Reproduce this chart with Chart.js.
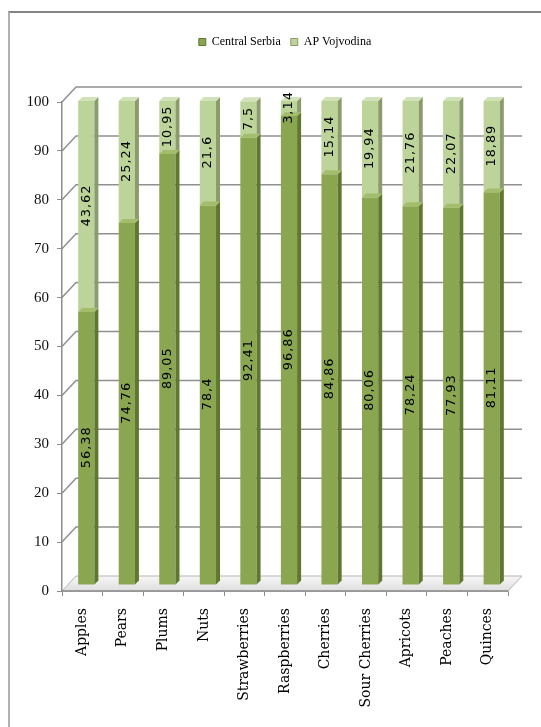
<!DOCTYPE html>
<html>
<head>
<meta charset="utf-8">
<script src="https://cdn.jsdelivr.net/npm/chart.js@4.4.0/dist/chart.umd.min.js"></script>
<style>
  html, body { margin: 0; padding: 0; background: #fff; overflow: hidden; }
  #frame { position: absolute; left: 8px; top: 11px; width: 600px; height: 800px;
           border-top: 2px solid #858585; border-left: 2px solid #b0b0b0; }
  #myChart { position: absolute; left: 0; top: 0; }
</style>
</head>
<body>
<div id="frame"></div>
<canvas id="myChart" width="541" height="727"></canvas>
<script>
// Fruit production share by region, in percent
var categories = ['Apples', 'Pears', 'Plums', 'Nuts', 'Strawberries', 'Raspberries',
                  'Cherries', 'Sour Cherries', 'Apricots', 'Peaches', 'Quinces'];
var centralSerbia = [56.38, 74.76, 89.05, 78.4, 92.41, 96.86, 84.86, 80.06, 78.24, 77.93, 81.11];
var apVojvodina   = [43.62, 25.24, 10.95, 21.6, 7.5, 3.14, 15.14, 19.94, 21.76, 22.07, 18.89];
var yMin = 0, yMax = 100, yStep = 10;

// depth of the box walls and of the columns
var WALL_DX = 14, WALL_DY = 15;
var BAR_DX = 4, BAR_DY = -6, BAR_SY = 0.99, BAR_DEPTH = 4;

var faceColors = [
  { side: '#5e792f', top: '#a3bd6c' },
  { side: '#8b9c6c', top: '#d2e2b8' }
];

function applyBarDepth(ctx, chart) {
  var b = chart.chartArea.bottom;
  ctx.translate(BAR_DX, b + BAR_DY);
  ctx.scale(1, BAR_SY);
  ctx.translate(0, -b);
}

function formatValue(v) {
  return String(v).replace('.', ',');
}

var box3d = {
  id: 'box3d',
  beforeDatasetsDraw: function (chart) {
    var ctx = chart.ctx, area = chart.chartArea, y = chart.scales.y;
    ctx.save();
    // back wall + left wall grid lines
    ctx.strokeStyle = '#909090';
    ctx.lineWidth = 1.5;
    y.ticks.forEach(function (t) {
      if (t.value === yMin) return;
      var yy = y.getPixelForValue(t.value);
      ctx.beginPath();
      ctx.moveTo(area.left, yy);
      ctx.lineTo(area.left + WALL_DX, yy - WALL_DY);
      ctx.lineTo(area.right + WALL_DX, yy - WALL_DY);
      ctx.stroke();
    });
    // floor
    var fb = area.bottom;
    var g = ctx.createLinearGradient(0, fb - WALL_DY, 0, fb);
    g.addColorStop(0, '#f7f7f7');
    g.addColorStop(1, '#dedede');
    ctx.fillStyle = g;
    ctx.beginPath();
    ctx.moveTo(area.left, fb);
    ctx.lineTo(area.right, fb);
    ctx.lineTo(area.right + WALL_DX, fb - WALL_DY);
    ctx.lineTo(area.left + WALL_DX, fb - WALL_DY);
    ctx.closePath();
    ctx.fill();
    ctx.strokeStyle = '#b4b4b4';
    ctx.lineWidth = 1;
    ctx.stroke();
    ctx.strokeStyle = '#8c8c8c';
    ctx.lineWidth = 1.5;
    ctx.beginPath();
    ctx.moveTo(area.left, fb);
    ctx.lineTo(area.right, fb);
    ctx.stroke();
    ctx.restore();
  },
  beforeDatasetDraw: function (chart) {
    chart.ctx.save();
    applyBarDepth(chart.ctx, chart);
  },
  afterDatasetDraw: function (chart, args) {
    var ctx = chart.ctx, c = faceColors[args.index];
    args.meta.data.forEach(function (el) {
      var p = el.getProps(['x', 'y', 'base', 'width'], true);
      var l = p.x - p.width / 2, r = p.x + p.width / 2;
      var top = Math.min(p.y, p.base), bot = Math.max(p.y, p.base);
      ctx.fillStyle = c.side;
      ctx.beginPath();
      ctx.moveTo(r, top);
      ctx.lineTo(r + BAR_DEPTH, top - BAR_DEPTH);
      ctx.lineTo(r + BAR_DEPTH, bot - BAR_DEPTH);
      ctx.lineTo(r, bot);
      ctx.closePath();
      ctx.fill();
      ctx.fillStyle = c.top;
      ctx.beginPath();
      ctx.moveTo(l, top);
      ctx.lineTo(l + BAR_DEPTH, top - BAR_DEPTH);
      ctx.lineTo(r + BAR_DEPTH, top - BAR_DEPTH);
      ctx.lineTo(r, top);
      ctx.closePath();
      ctx.fill();
    });
    ctx.restore();
  },
  afterDatasetsDraw: function (chart) {
    var ctx = chart.ctx;
    ctx.save();
    applyBarDepth(ctx, chart);
    ctx.font = '13px "DejaVu Sans"';
    ctx.letterSpacing = '1px';
    ctx.fillStyle = '#000';
    ctx.textAlign = 'center';
    ctx.textBaseline = 'middle';
    chart.data.datasets.forEach(function (ds, i) {
      chart.getDatasetMeta(i).data.forEach(function (el, j) {
        var p = el.getProps(['x', 'y', 'base'], true);
        ctx.save();
        ctx.translate(p.x, (p.y + p.base) / 2);
        ctx.rotate(-Math.PI / 2);
        ctx.fillText(formatValue(ds.data[j]), 1, 0);
        ctx.restore();
      });
    });
    ctx.restore();
  }
};

function displayChart() {
  var ctx = document.getElementById('myChart').getContext('2d');

  var myChart = new Chart(ctx, {
    type: 'bar',
    data: {
      labels: categories,
      datasets: [{
        label: 'Central Serbia',
        data: centralSerbia,
        backgroundColor: '#8aa650',
        borderWidth: 0,
        clip: false
      }, {
        label: 'AP Vojvodina',
        data: apVojvodina,
        backgroundColor: '#bcd39a',
        borderWidth: 0,
        clip: false
      }]
    },
    options: {
      responsive: false,
      animation: false,
      devicePixelRatio: 1,
      categoryPercentage: 1,
      barPercentage: 0.4,
      layout: { padding: { top: 26, right: 33, bottom: 0, left: 0 } },
      plugins: {
        tooltip: { enabled: false },
        legend: {
          position: 'top',
          fullSize: false,
          labels: {
            boxWidth: 7,
            boxHeight: 7,
            padding: 10,
            color: '#000',
            font: { family: '"Liberation Serif", serif', size: 12 },
            generateLabels: function (chart) {
              var items = Chart.defaults.plugins.legend.labels.generateLabels(chart);
              items.forEach(function (it) {
                it.lineWidth = 1;
                it.strokeStyle = faceColors[it.datasetIndex].side;
              });
              return items;
            }
          }
        }
      },
      scales: {
        x: {
          stacked: true,
          grid: { display: true, drawOnChartArea: false, drawTicks: true, tickLength: 5, color: '#8c8c8c' },
          border: { display: true, color: '#8c8c8c', width: 1.5 },
          ticks: {
            autoSkip: false,
            minRotation: 90,
            maxRotation: 90,
            padding: 12,
            color: '#000',
            font: { family: '"DejaVu Serif", serif', size: 14 }
          },
          afterFit: function (s) { s.height = 136; }
        },
        spacer: {
          type: 'category',
          axis: 'x',
          position: 'top',
          display: true,
          grid: { display: false },
          border: { display: false },
          ticks: { display: false },
          afterFit: function (s) { s.height = 44; }
        },
        y: {
          stacked: true,
          min: yMin,
          max: yMax,
          grid: { display: true, drawOnChartArea: false, drawTicks: true, tickLength: 5, color: '#8c8c8c' },
          border: { display: true, color: '#8c8c8c', width: 1.5 },
          ticks: {
            stepSize: yStep,
            padding: 8,
            color: '#111',
            font: { family: '"Liberation Serif", serif', size: 15 }
          },
          afterFit: function (s) { s.width = 62; }
        }
      }
    },
    plugins: [box3d]
  });
}

displayChart();
</script>
</body>
</html>
